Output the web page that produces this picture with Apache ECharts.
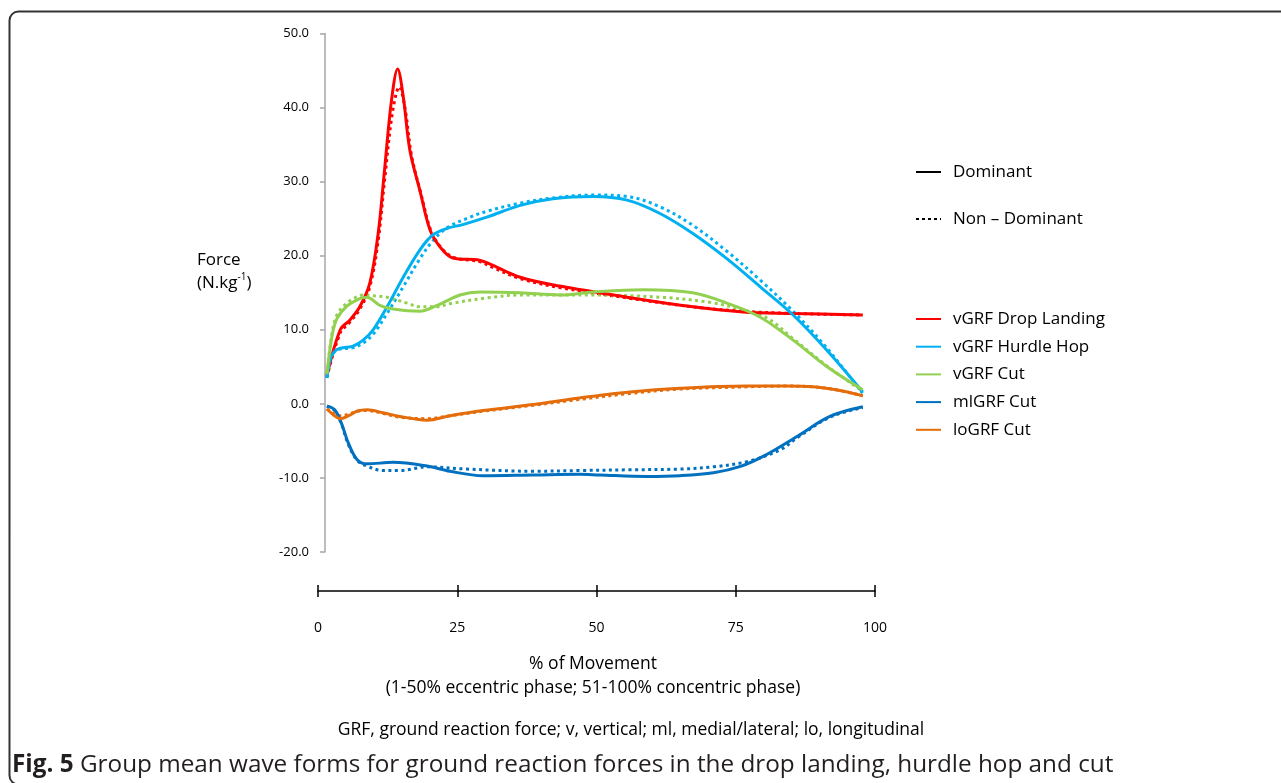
<!DOCTYPE html>
<html>
<head>
<meta charset="utf-8">
<script src="https://cdn.jsdelivr.net/npm/echarts@6/dist/echarts.min.js"></script>
<style>
html,body{margin:0;padding:0;background:#fff;}
#c{width:1281px;height:783px;}
</style>
</head>
<body>
<div id="c"></div>
<script>
const xTicks = [0, 25, 50, 75, 100];
const yTicks = [-20, -10, 0, 10, 20, 30, 40, 50];
const seriesNames = ['vGRF Drop Landing', 'vGRF Hurdle Hop', 'vGRF Cut', 'mlGRF Cut', 'loGRF Cut'];

const dropLandingDom = [[1.6,3.8],[4,10],[5.7,11.3],[7.5,13.1],[9.3,16.3],[10.8,23],[12,32],[13.2,41],[14.3,45.2],[15.3,41.5],[16.5,34.2],[18.3,28.8],[20.1,23.5],[21.9,21.2],[24.2,19.7],[29,19.4],[31.4,18.7],[36.3,17.1],[43.4,15.9],[55.5,14.4],[67.3,13.1],[76.3,12.4],[85.3,12.2],[97.8,12.0]];
const dropLandingND = [[1.6,3.6],[4,9.6],[5.7,11],[7.5,12.8],[9.3,15.8],[10.8,22],[12,30.5],[13.4,39.5],[14.6,42.8],[15.6,40],[16.8,33.5],[18.5,28.3],[20.3,23.3],[22,21.2],[24.2,19.8],[29,19.2],[31.4,18.4],[36.3,16.9],[43.4,15.7],[55.5,14.3],[67.3,13.1],[76.3,12.5],[85.3,12.2],[97.8,12.0]];
const hurdleHopDom = [[1.6,3.5],[2.2,6],[3,7.1],[4,7.5],[6.3,7.8],[8.1,8.6],[9.9,10.0],[12.4,13.1],[15.3,17.1],[18.3,20.8],[20.6,22.8],[23.2,23.7],[26,24.2],[30.3,25.2],[36.3,26.8],[42.2,27.7],[49.4,28.0],[55.5,27.5],[61.4,25.7],[67.3,23.0],[73.4,19.6],[79.4,15.8],[85.3,12.0],[91.4,7.2],[97.8,1.6]];
const hurdleHopND = [[1.6,3.5],[2.2,6],[3,7.1],[4,7.4],[6.3,7.6],[8.1,8.2],[9.9,9.4],[12.4,12.2],[15.3,15.8],[18.3,19.6],[20.6,22.0],[23.2,23.8],[27.3,25.2],[30.3,26.0],[36.3,27.1],[42.2,27.8],[49.4,28.2],[55.5,28.0],[61.4,26.6],[67.3,24.1],[73.4,20.6],[79.4,16.7],[85.3,12.5],[91.4,7.5],[97.8,1.4]];
const cutVDom = [[1.6,4],[2.5,9.1],[3.4,11.5],[5.2,13.2],[7.5,14.2],[8.8,14.4],[11.1,13.3],[13.5,12.8],[18.3,12.5],[21.4,13.3],[25.5,14.7],[29.1,15.1],[36.3,15.0],[43.4,14.7],[49.4,15.1],[58.3,15.4],[67.3,15.0],[73.4,13.6],[79.4,11.7],[85.3,8.6],[91.4,5.0],[97.8,1.9]];
const cutVND = [[1.6,4],[2.5,9.5],[3.4,12],[4.9,13.4],[6.6,14.3],[8.1,14.7],[10,14.6],[12.4,14.4],[16,13.6],[18.3,13.1],[21,13.1],[24.2,13.6],[30.3,14.3],[36.3,14.7],[43.4,14.7],[49.4,14.7],[61.4,14.4],[70.4,13.7],[76.3,12.7],[80.6,11.6],[85.3,8.8],[91.4,5.1],[97.8,1.7]];
const cutMLDom = [[1.6,-0.3],[3,-0.8],[4.2,-2.6],[5.4,-5.2],[7,-7.5],[8.8,-8.1],[13.5,-7.9],[19.6,-8.4],[23.7,-9.1],[29.6,-9.7],[38.6,-9.6],[47,-9.5],[50.6,-9.6],[59,-9.8],[65,-9.7],[71,-9.3],[76,-8.4],[79.9,-7.1],[86,-4.4],[91.9,-1.7],[97.8,-0.4]];
const cutMLND = [[1.6,-0.3],[3,-0.9],[4.2,-2.7],[5.4,-5.4],[7,-7.6],[8.8,-8.4],[11.7,-9.0],[14.7,-9.0],[19.6,-8.5],[26.7,-8.8],[38.6,-9.1],[47,-9.0],[56,-8.9],[65,-8.8],[71,-8.5],[77,-7.8],[83,-6.2],[86,-4.6],[91.9,-1.8],[97.8,-0.5]];
const cutLODom = [[1.6,-0.7],[2.8,-1.5],[4,-2.0],[5.5,-1.6],[7,-1.0],[8.8,-0.8],[11.7,-1.2],[14.7,-1.7],[19.6,-2.2],[23.7,-1.6],[29.6,-0.9],[38.6,-0.1],[47,0.8],[56,1.6],[65,2.1],[77,2.4],[84,2.4],[88.9,2.3],[93,1.9],[97.8,1.1]];
const cutLOND = [[1.6,-0.7],[2.8,-1.2],[4,-1.6],[5.5,-1.4],[7,-1.0],[8.8,-0.9],[11.7,-1.3],[14.7,-1.8],[19.6,-2.0],[23.7,-1.6],[29.6,-1.0],[38.6,-0.2],[47,0.6],[56,1.4],[65,2.0],[77,2.3],[84,2.4],[88.9,2.3],[93,1.9],[97.8,1.1]];

const colors = ['#FF0000', '#00B0F0', '#92D050', '#0070C0', '#E46C0A'];
const domData = [dropLandingDom, hurdleHopDom, cutVDom, cutMLDom, cutLODom];
const ndData = [dropLandingND, hurdleHopND, cutVND, cutMLND, cutLOND];

const FONT = '"Open Sans", "Noto Sans", sans-serif';
const series = [];
seriesNames.forEach((n, i) => {
  series.push({
    name: n, type: 'line', data: domData[i], smooth: 0.35, symbol: 'none',
    color: colors[i], lineStyle: {width: 3, color: colors[i]}, z: 3
  });
});
seriesNames.forEach((n, i) => {
  series.push({
    name: n, type: 'line', data: ndData[i], smooth: 0.35, symbol: 'none',
    color: colors[i], lineStyle: {width: 3, color: colors[i], type: [3, 3.5]}, z: 2
  });
});
series.push({name: 'Dominant', type: 'line', data: [], symbol: 'none', color: '#000', lineStyle: {width: 3, color: '#000'}});
series.push({name: 'Non – Dominant', type: 'line', data: [], symbol: 'none', color: '#000', lineStyle: {width: 3, color: '#000', type: [3, 3]}});

const legendCommon = {
  orient: 'vertical', left: 910,
  itemWidth: 25, itemHeight: 4,
  itemStyle: {opacity: 0},
  textStyle: {fontSize: 17, color: '#000', fontFamily: FONT, lineHeight: 20, padding: [0, 0, 0, 7]},
  selectedMode: false
};

const chart = echarts.init(document.getElementById('c'), null, {renderer: 'canvas'});
chart.setOption({
  animation: false,
  backgroundColor: '#fff',
  textStyle: {fontFamily: FONT},
  grid: {left: 318, right: 406, top: 33.5, bottom: 231, containLabel: false},
  xAxis: [{
    type: 'value', min: xTicks[0], max: xTicks[xTicks.length - 1], interval: 25,
    position: 'bottom', offset: 39,
    axisLine: {show: true, onZero: false, lineStyle: {color: '#000', width: 1.5}},
    axisTick: {show: true, length: 6, lineStyle: {color: '#000', width: 1.5}},
    axisLabel: {show: true, margin: 30, color: '#000', fontSize: 14, fontFamily: FONT},
    splitLine: {show: false}
  }, {
    type: 'value', min: xTicks[0], max: xTicks[xTicks.length - 1], interval: 25,
    position: 'bottom', offset: 39,
    axisLine: {show: false, onZero: false},
    axisTick: {show: true, inside: true, length: 6, lineStyle: {color: '#000', width: 1.5}},
    axisLabel: {show: false},
    splitLine: {show: false}
  }],
  yAxis: {
    type: 'value', min: yTicks[0], max: yTicks[yTicks.length - 1], interval: 10,
    offset: -7,
    axisLine: {show: true, onZero: false, lineStyle: {color: '#A6A6A6', width: 1.5}},
    axisTick: {show: true, length: 5, lineStyle: {color: '#A6A6A6', width: 1.5}},
    axisLabel: {margin: 16, color: '#000', fontSize: 13, fontFamily: FONT, formatter: v => v.toFixed(1)},
    splitLine: {show: false}
  },
  legend: [
    Object.assign({}, legendCommon, {data: ['Dominant', 'Non – Dominant'], top: 157, itemGap: 27}),
    Object.assign({}, legendCommon, {data: seriesNames, top: 304, itemGap: 7.7})
  ],
  graphic: [
    {type: 'rect', silent: true, shape: {x: 9.5, y: 11.5, width: 1300, height: 773, r: 9},
     style: {fill: 'none', stroke: '#333', lineWidth: 2}},
    {type: 'text', left: 197, top: 249, style: {
      text: 'Force\n(N.kg{sup|-1})', fontSize: 17, fill: '#000', fontFamily: FONT, lineHeight: 23,
      rich: {sup: {fontSize: 10, verticalAlign: 'top', padding: [0, 0, 8, 0], fill: '#000', fontFamily: FONT}}
    }},
    {type: 'text', x: 593, y: 664, style: {text: '% of Movement', fontSize: 17.5, fill: '#000', fontFamily: FONT, align: 'center', verticalAlign: 'middle'}},
    {type: 'text', x: 593, y: 688, style: {text: '(1-50% eccentric phase; 51-100% concentric phase)', fontSize: 17.5, fill: '#000', fontFamily: FONT, align: 'center', verticalAlign: 'middle'}},
    {type: 'text', x: 631, y: 730, style: {text: 'GRF, ground reaction force; v, vertical; ml, medial/lateral; lo, longitudinal', fontSize: 17.5, fill: '#000', fontFamily: FONT, align: 'center', verticalAlign: 'middle'}},
    {type: 'text', x: 12, y: 765, style: {
      text: '{b|Fig. 5} Group mean wave forms for ground reaction forces in the drop landing, hurdle hop and cut',
      fontSize: 24.3, fill: '#231F20', fontFamily: FONT, verticalAlign: 'middle',
      rich: {b: {fontSize: 24.3, fontWeight: 'bold', fill: '#231F20', fontFamily: FONT}}
    }}
  ],
  series: series
});
</script>
</body>
</html>
